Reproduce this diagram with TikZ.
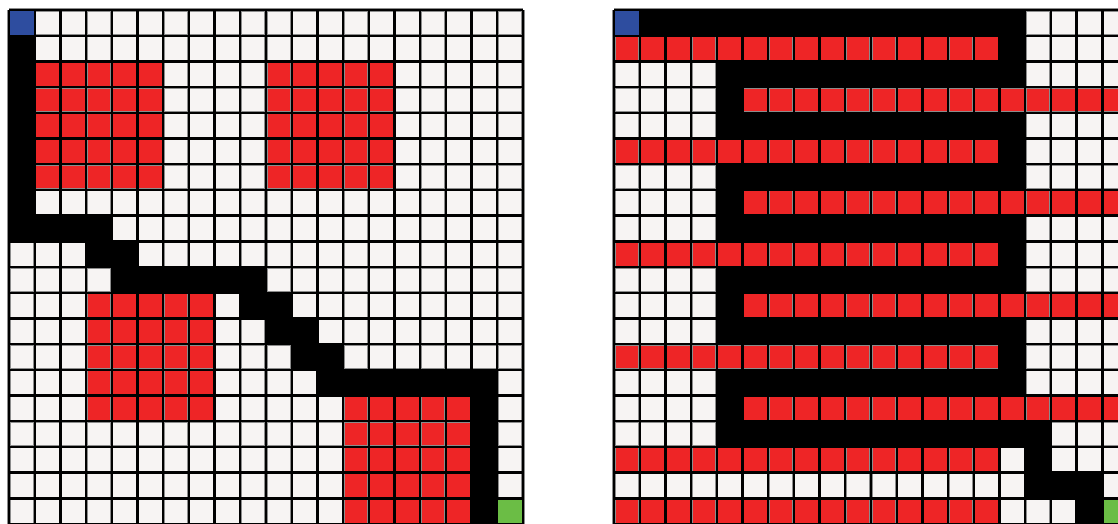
\documentclass[tikz,border=0pt]{standalone}
\usepackage{xcolor}
\usepackage{tikz}
\definecolor{cellwhite}{HTML}{F7F4F3}
\definecolor{wallred}{HTML}{EE2526}
\definecolor{startblue}{HTML}{2E4D9F}
\definecolor{goalgreen}{HTML}{6BBD45}

\begin{document}
\begin{tikzpicture}[x=1cm,y=-1cm,
   trail/.style={fill=black},
   wall/.style={fill=wallred},
   rim/.style={draw=black!45,line width=3.4pt},
   gridline/.style={draw=black,line width=2.6pt}]
  \useasboundingbox (-0.35,-0.39) rectangle (43.15,19.96);
  \clip (-0.35,-0.39) rectangle (43.15,19.96);
  % left maze
  \fill[cellwhite] (0,0) rectangle (20,20);
  \fill[wall] (1,2) rectangle (6,7);
  \fill[wall] (10,2) rectangle (15,7);
  \fill[wall] (3,11) rectangle (8,16);
  \fill[wall] (13,15) rectangle (18,20);
  \draw[rim] (0,0) grid (20,20);
  \fill[trail] (0,1) rectangle (1,8);
  \fill[trail] (0,8) rectangle (4,9);
  \fill[trail] (3,9) rectangle (5,10);
  \fill[trail] (4,10) rectangle (10,11);
  \fill[trail] (9,11) rectangle (11,12);
  \fill[trail] (10,12) rectangle (12,13);
  \fill[trail] (11,13) rectangle (13,14);
  \fill[trail] (12,14) rectangle (19,15);
  \fill[trail] (18,15) rectangle (19,20);
  \fill[startblue] (0,0) rectangle (1,1);
  \fill[goalgreen] (19,19) rectangle (20,20);
  \draw[gridline] (0,0) grid (20,20);
  % right maze
  \begin{scope}[xshift=23.54cm]
    \fill[cellwhite] (0,0) rectangle (20,20);
    \foreach \r in {1,5,9,13,17,19}
      \fill[wall] (0,\r) rectangle (15,\r+1);
    \foreach \r in {3,7,11,15}
      \fill[wall] (5,\r) rectangle (20,\r+1);
    \draw[rim] (0,0) grid (20,20);
    \fill[trail] (1,0) rectangle (16,1);
    \foreach \k in {0,4,8,12}{
      \fill[trail] (15,\k+1) rectangle (16,\k+2);
      \fill[trail] (4,\k+2) rectangle (16,\k+3);
      \fill[trail] (4,\k+3) rectangle (5,\k+4);
      \fill[trail] (4,\k+4) rectangle (16,\k+5);
    }
    \fill[trail] (15,16) rectangle (17,17);
    \fill[trail] (16,17) rectangle (17,18);
    \fill[trail] (16,18) rectangle (19,19);
    \fill[trail] (18,19) rectangle (19,20);
    \fill[startblue] (0,0) rectangle (1,1);
    \fill[goalgreen] (19,19) rectangle (20,20);
    \draw[gridline] (0,0) grid (20,20);
  \end{scope}
\end{tikzpicture}
\end{document}
